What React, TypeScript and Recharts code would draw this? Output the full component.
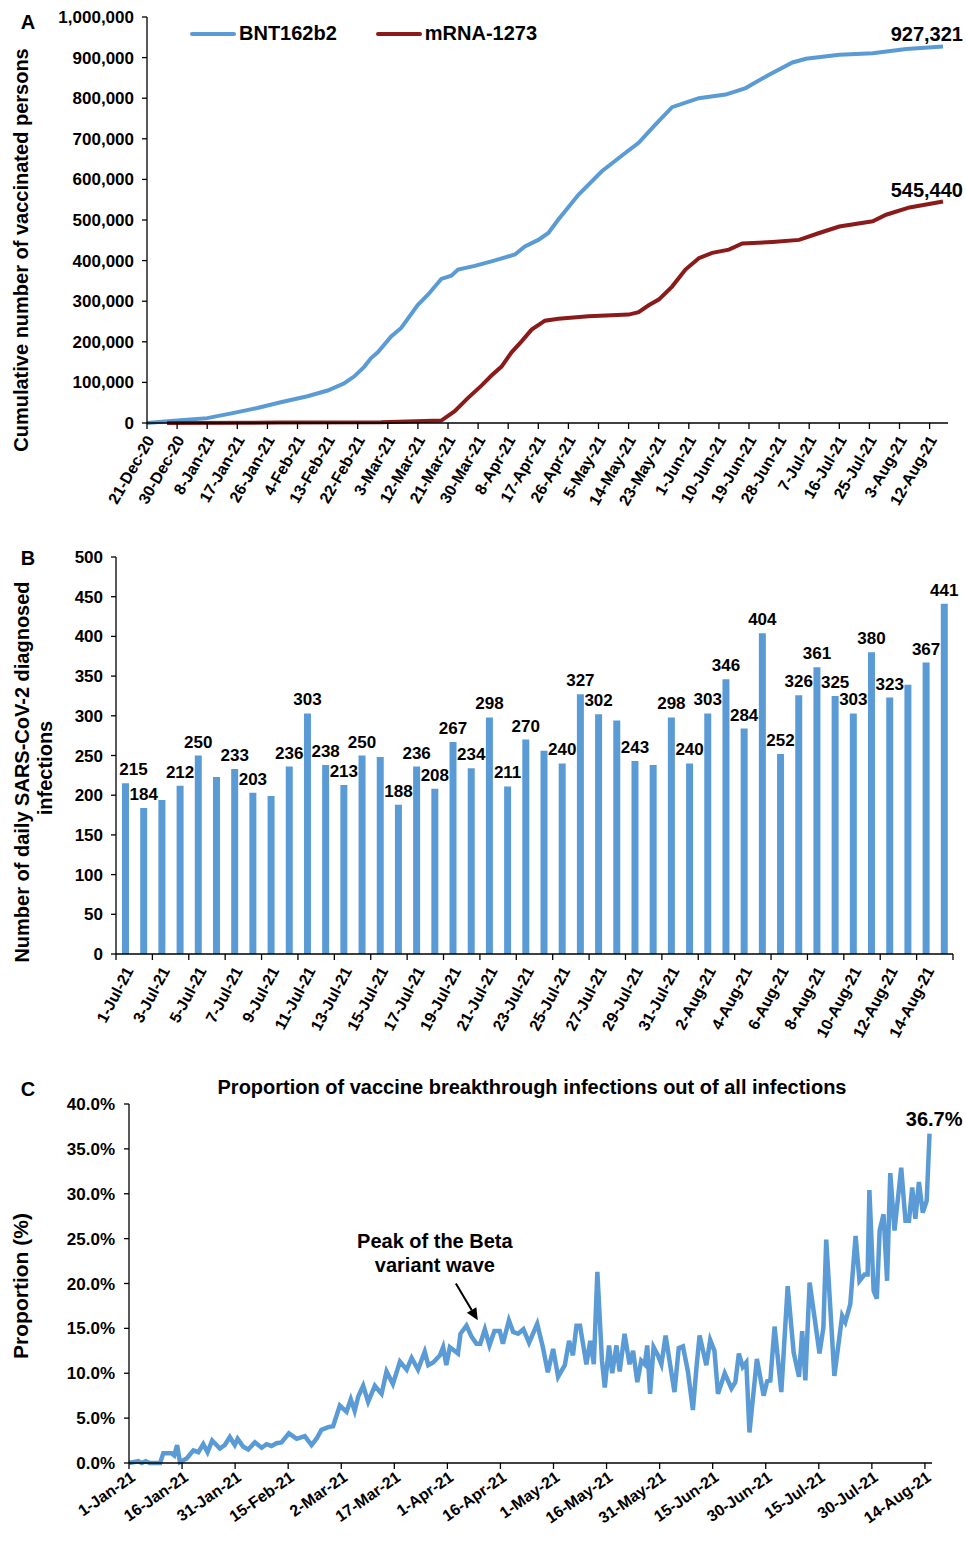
import React from 'react';
import { LineChart, Line, BarChart, Bar, XAxis, YAxis, Legend, LabelList, ReferenceLine } from 'recharts';

const FONT = '"Liberation Sans", Arial, Helvetica, sans-serif';
const BLUE = '#5B9BD5';
const RED = '#8B1A1A';
const AXIS = { stroke: '#000', strokeWidth: 1.3 };

// ---------- A: cumulative vaccinated persons (x = days since 21-Dec-20)
const vaxTickDays = [0, 9, 18, 27, 36, 45, 54, 63, 72, 81, 90, 99, 108, 117, 126, 135, 144, 153, 162, 171, 180, 189, 198, 207, 216, 225, 234];
const vaxTickLabels = ['21-Dec-20', '30-Dec-20', '8-Jan-21', '17-Jan-21', '26-Jan-21', '4-Feb-21', '13-Feb-21', '22-Feb-21', '3-Mar-21', '12-Mar-21', '21-Mar-21', '30-Mar-21', '8-Apr-21', '17-Apr-21', '26-Apr-21', '5-May-21', '14-May-21', '23-May-21', '1-Jun-21', '10-Jun-21', '19-Jun-21', '28-Jun-21', '7-Jul-21', '16-Jul-21', '25-Jul-21', '3-Aug-21', '12-Aug-21'];
const vaxYTicks = [0, 100000, 200000, 300000, 400000, 500000, 600000, 700000, 800000, 900000, 1000000];

const bntDays = [0, 9, 18, 26, 33, 40, 48, 54, 59, 62, 65, 67, 69, 73, 76, 81, 84, 88, 91, 93, 98, 103, 110, 113, 117, 120, 123, 129, 136, 143, 147, 152, 157, 165, 173, 179, 186, 193, 197, 207, 217, 227, 238];
const bntValues = [0, 6000, 12000, 25000, 37000, 51000, 66000, 80000, 98000, 115000, 139000, 160000, 174000, 213000, 234000, 291000, 316000, 355000, 363000, 378000, 387000, 398000, 415000, 435000, 451000, 468000, 501000, 562000, 620000, 665000, 690000, 735000, 778000, 800000, 809000, 825000, 858000, 888000, 897000, 907000, 911000, 921000, 927321];

const mrnaDays = [6, 40, 70, 83, 88, 92, 96, 100, 103, 106, 109, 112, 115, 119, 123, 132, 144, 147, 150, 153, 157, 161, 165, 169, 174, 178, 187, 195, 201, 207, 217, 221, 228, 238];
const mrnaValues = [0, 1000, 2000, 5000, 6000, 29000, 62000, 92000, 117000, 139000, 174000, 201000, 230000, 252000, 257000, 263000, 267000, 273000, 290000, 304000, 336000, 378000, 406000, 419000, 427000, 442000, 446000, 451000, 468000, 484000, 497000, 513000, 531000, 545440];

// ---------- B: daily diagnosed infections
const caseDates = ['1-Jul-21', '2-Jul-21', '3-Jul-21', '4-Jul-21', '5-Jul-21', '6-Jul-21', '7-Jul-21', '8-Jul-21', '9-Jul-21', '10-Jul-21', '11-Jul-21', '12-Jul-21', '13-Jul-21', '14-Jul-21', '15-Jul-21', '16-Jul-21', '17-Jul-21', '18-Jul-21', '19-Jul-21', '20-Jul-21', '21-Jul-21', '22-Jul-21', '23-Jul-21', '24-Jul-21', '25-Jul-21', '26-Jul-21', '27-Jul-21', '28-Jul-21', '29-Jul-21', '30-Jul-21', '31-Jul-21', '1-Aug-21', '2-Aug-21', '3-Aug-21', '4-Aug-21', '5-Aug-21', '6-Aug-21', '7-Aug-21', '8-Aug-21', '9-Aug-21', '10-Aug-21', '11-Aug-21', '12-Aug-21', '13-Aug-21', '14-Aug-21', '15-Aug-21'];
const caseValues = [215, 184, 194, 212, 250, 223, 233, 203, 199, 236, 303, 238, 213, 250, 248, 188, 236, 208, 267, 234, 298, 211, 270, 256, 240, 327, 302, 294, 243, 238, 298, 240, 303, 346, 284, 404, 252, 326, 361, 325, 303, 380, 323, 339, 367, 441];
const unlabeledBars = [2, 5, 8, 14, 23, 27, 29, 43];
const caseYTicks = [0, 50, 100, 150, 200, 250, 300, 350, 400, 450, 500];

// ---------- C: breakthrough proportion (x = days since 1-Jan-21)
const propTickDays = [0, 15, 30, 45, 60, 75, 90, 105, 120, 135, 150, 165, 180, 195, 210, 225];
const propTickLabels = ['1-Jan-21', '16-Jan-21', '31-Jan-21', '15-Feb-21', '2-Mar-21', '17-Mar-21', '1-Apr-21', '16-Apr-21', '1-May-21', '16-May-21', '31-May-21', '15-Jun-21', '30-Jun-21', '15-Jul-21', '30-Jul-21', '14-Aug-21'];
const propYTicks = [0, 5, 10, 15, 20, 25, 30, 35, 40];
const propDays = [0, 2.6, 3.6, 4.7, 5.9, 8.8, 9.7, 12, 12.8, 13.6, 14.4, 16.3, 18.2, 19.6, 21, 22.2, 23.5, 25.7, 27.1, 28.5, 29.9, 30.7, 32.3, 33.7, 35.6, 37.5, 38.9, 40.3, 41.7, 43.1, 45.2, 47.4, 49.7, 51.6, 53, 54.4, 56.3, 57.7, 59.6, 61.5, 62.7, 63.8, 64.8, 66.2, 67.6, 69.5, 71.4, 72.8, 74.6, 76.6, 78.5, 79.9, 81.7, 83.6, 84.6, 86, 87.9, 88.8, 89.7, 90.7, 92, 93, 93.7, 95.4, 96.8, 98.2, 99.3, 100.6, 101.9, 103.3, 104.8, 105.7, 107.4, 108.6, 110, 111.5, 113.1, 115.4, 117, 118.4, 119.9, 121.3, 123.2, 124.4, 125.5, 126.5, 127.5, 129.3, 130.4, 131.4, 132.4, 133.7, 134.5, 135.7, 136.6, 137.8, 138.7, 140.1, 141.5, 142.5, 143.7, 144.8, 145.8, 146.5, 147.3, 148.3, 149.5, 150.5, 151.7, 152.8, 154.2, 155.4, 156.6, 158, 159.4, 160.5, 161.3, 163.2, 164.3, 165.5, 166.5, 168.4, 170.3, 171.4, 172.4, 173.5, 174.5, 175.4, 177.5, 179.4, 180.4, 181.3, 182.5, 184.4, 186.2, 187.9, 189.4, 190.3, 191.2, 192.4, 193.8, 195.2, 196.3, 197.1, 199.4, 201.6, 202.5, 203.9, 205.4, 206.5, 207.9, 208.8, 209.3, 210.5, 211.4, 212.2, 213.3, 214.3, 215.2, 216.4, 218.3, 219.5, 220.5, 221.4, 222.3, 223.3, 224.4, 225.5, 226.3];
const propValues = [0, 0.2, 0, 0.2, 0, 0, 1.1, 1.1, 0.85, 2.0, 0.1, 0.5, 1.4, 1.2, 2.1, 1.2, 2.5, 1.6, 2.0, 2.9, 2.0, 2.7, 1.8, 1.5, 2.3, 1.7, 2.1, 1.9, 2.2, 2.3, 3.3, 2.7, 3.0, 2.0, 2.7, 3.7, 4.0, 4.1, 6.4, 5.7, 7.1, 5.8, 7.4, 8.6, 6.8, 8.6, 7.7, 10.2, 8.8, 11.3, 10.4, 11.7, 10.4, 12.4, 10.9, 11.2, 12.0, 12.9, 10.9, 12.9, 12.5, 12.2, 14.4, 15.3, 14.1, 13.3, 13.3, 14.9, 13.1, 14.7, 14.7, 13.3, 15.9, 14.6, 14.4, 14.9, 13.4, 15.5, 12.9, 10.1, 12.7, 9.6, 10.9, 13.6, 12.0, 15.3, 15.3, 11.0, 13.6, 11.0, 21.3, 11.4, 8.4, 13.1, 10.0, 13.1, 10.2, 14.4, 11.0, 12.5, 9.0, 11.4, 11.0, 13.1, 7.7, 12.9, 12.0, 11.0, 14.2, 11.4, 7.9, 12.8, 13.0, 10.2, 5.9, 11.0, 14.2, 10.9, 13.7, 12.5, 7.7, 10.0, 8.3, 9.0, 12.2, 10.7, 11.2, 3.4, 11.6, 7.5, 9.1, 9.2, 15.2, 7.9, 19.7, 12.3, 9.6, 14.7, 9.2, 20.1, 16.2, 12.2, 15.1, 24.9, 9.7, 16.4, 15.7, 17.7, 25.3, 20.3, 21.0, 21.0, 30.4, 19.2, 18.3, 25.9, 27.7, 20.3, 32.3, 25.9, 32.9, 27.0, 27.0, 30.7, 27.2, 31.3, 27.9, 29.2, 36.7];

// merged table so both lines share one numeric x axis
const vaxData = (() => {
  const rows = new Map<number, { day: number; bnt?: number; mrna?: number }>();
  bntDays.forEach((d, i) => {
    const r = rows.get(d) ?? { day: d };
    r.bnt = bntValues[i];
    rows.set(d, r);
  });
  mrnaDays.forEach((d, i) => {
    const r = rows.get(d) ?? { day: d };
    r.mrna = mrnaValues[i];
    rows.set(d, r);
  });
  return [...rows.values()].sort((a, b) => a.day - b.day);
})();
const caseData = caseDates.map((date, i) => ({ date, count: caseValues[i] }));
const propData = propDays.map((day, i) => ({ day, p: propValues[i] }));

const txt = { fontFamily: FONT, fontWeight: 700, fill: '#000' } as const;
const yTick = { ...txt, fontSize: 17 };

const angledTick = (angle: number, labelOf: (v: any) => string, dx: number, dy: number, extra?: (p: any) => React.ReactNode) =>
  (props: any) => {
    const { x, y, payload } = props;
    return (
      <g>
        {extra && extra(props)}
        <text transform={`translate(${x + dx},${y + dy}) rotate(${angle})`} textAnchor="end" dy="0.35em" fontSize={16} {...txt}>
          {labelOf(payload.value)}
        </text>
      </g>
    );
  };

const VaxLegend = (props: any) => (
  <div style={{ display: 'flex', alignItems: 'center', fontFamily: FONT, fontWeight: 700, fontSize: 20, color: '#000' }}>
    {(props.payload || []).map((item: any) => (
      <div key={item.value} style={{ display: 'flex', alignItems: 'center', marginRight: 39 }}>
        <span style={{ display: 'inline-block', width: 46, height: 4, borderRadius: 2, background: item.color, marginRight: 3 }} />
        <span>{item.value}</span>
      </div>
    ))}
  </div>
);

const endLabel = (lastIndex: number, fmt: (v: number) => string, dx: number, dy: number) => (p: any) =>
  p.index === lastIndex ? (
    <text x={p.x + dx} y={p.y + dy} textAnchor="end" fontSize={20} {...txt}>{fmt(Number(p.value))}</text>
  ) : null;

const PeakArrow = (props: any) => {
  const { x1, y1, x2, y2 } = props;
  const a = Math.atan2(y2 - y1, x2 - x1);
  const bx = x2 - 12 * Math.cos(a);
  const by = y2 - 12 * Math.sin(a);
  const h = 5.5;
  return (
    <g>
      <line x1={x1} y1={y1} x2={bx} y2={by} stroke="#000" strokeWidth={2} />
      <polygon points={`${x2},${y2} ${bx + h * Math.sin(a)},${by - h * Math.cos(a)} ${bx - h * Math.sin(a)},${by + h * Math.cos(a)}`} fill="#000" />
      <text x={x1 - 21} y={y1 - 36} textAnchor="middle" fontSize={20} {...txt}>Peak of the Beta</text>
      <text x={x1 - 21} y={y1 - 12} textAnchor="middle" fontSize={20} {...txt}>variant wave</text>
    </g>
  );
};

const W = 966;
const B_YW = 116;
const B_RIGHT = 13;
const bandB = (W - B_YW - B_RIGHT) / caseDates.length;

export default function App() {
  return (
    <div style={{ position: 'absolute', left: 0, top: 0, width: W, height: 1547, background: '#fff' }}>
      {/* A */}
      <div style={{ position: 'absolute', left: 0, top: 0 }}>
        <LineChart width={W} height={530} data={vaxData} margin={{ top: 17, right: 18, left: 0, bottom: 0 }}>
          <XAxis
            type="number"
            dataKey="day"
            domain={[0, 239.5]}
            ticks={vaxTickDays}
            interval={0}
            height={107}
            axisLine={AXIS}
            tickLine={AXIS}
            tickSize={6}
            tickMargin={0}
            tick={angledTick(-60, (v) => vaxTickLabels[vaxTickDays.indexOf(v)] ?? '', 3, 8)}
          />
          <YAxis
            domain={[0, 1000000]}
            ticks={vaxYTicks}
            interval={0}
            width={147}
            axisLine={AXIS}
            tickLine={AXIS}
            tickSize={5}
            tickMargin={8}
            tick={yTick}
            tickFormatter={(v: number) => v.toLocaleString('en-US')}
          />
          <Legend
            layout="horizontal"
            verticalAlign="middle"
            align="center"
            width={480}
            height={26}
            wrapperStyle={{ left: 190, top: 22 }}
            content={VaxLegend}
          />
          <Line name="BNT162b2" dataKey="bnt" stroke={BLUE} strokeWidth={4} dot={false} activeDot={false} connectNulls isAnimationActive={false}>
            <LabelList dataKey="bnt" content={endLabel(vaxData.length - 1, (v) => v.toLocaleString('en-US'), 20, -6)} />
          </Line>
          <Line name="mRNA-1273" dataKey="mrna" stroke={RED} strokeWidth={4} dot={false} activeDot={false} connectNulls isAnimationActive={false}>
            <LabelList dataKey="mrna" content={endLabel(vaxData.length - 1, (v) => v.toLocaleString('en-US'), 20, -5)} />
          </Line>
        </LineChart>
      </div>

      {/* B */}
      <div style={{ position: 'absolute', left: 0, top: 530 }}>
        <BarChart width={W} height={530} data={caseData} margin={{ top: 27, right: B_RIGHT, left: 0, bottom: 0 }}>
          <XAxis
            dataKey="date"
            interval={1}
            height={106}
            axisLine={AXIS}
            tickLine={false}
            tickSize={6}
            tickMargin={0}
            tick={angledTick(-62, (v) => String(v), 4, 8, ({ x, y, payload }) => (
              <>
                <line x1={x - bandB / 2} x2={x - bandB / 2} y1={y - 6} y2={y} stroke="#000" strokeWidth={1.3} />
                {payload.value === caseDates[caseDates.length - 2] && (
                  <line x1={x + bandB * 1.5} x2={x + bandB * 1.5} y1={y - 6} y2={y} stroke="#000" strokeWidth={1.3} />
                )}
              </>
            ))}
          />
          <YAxis
            domain={[0, 500]}
            ticks={caseYTicks}
            interval={0}
            width={B_YW}
            axisLine={AXIS}
            tickLine={AXIS}
            tickSize={5}
            tickMargin={8}
            tick={yTick}
          />
          <Bar dataKey="count" fill={BLUE} barSize={7} isAnimationActive={false}>
            <LabelList
              dataKey="count"
              content={(p: any) =>
                unlabeledBars.includes(p.index) ? null : (
                  <text x={p.x + p.width / 2 + (p.index === 0 ? 8 : 0)} y={p.y - 8} textAnchor="middle" fontSize={17} {...txt}>{p.value}</text>
                )
              }
            />
          </Bar>
        </BarChart>
      </div>

      {/* C */}
      <div style={{ position: 'absolute', left: 0, top: 1070 }}>
        <LineChart width={W} height={477} data={propData} margin={{ top: 34, right: 34, left: 0, bottom: 0 }}>
          <XAxis
            type="number"
            dataKey="day"
            domain={[0, 227]}
            ticks={propTickDays}
            interval={0}
            height={84}
            axisLine={AXIS}
            tickLine={AXIS}
            tickSize={6}
            tickMargin={0}
            tick={angledTick(-35, (v) => propTickLabels[propTickDays.indexOf(v)] ?? '', 4, 6)}
          />
          <YAxis
            domain={[0, 40]}
            ticks={propYTicks}
            interval={0}
            width={129}
            axisLine={AXIS}
            tickLine={AXIS}
            tickSize={5}
            tickMargin={9}
            tick={yTick}
            tickFormatter={(v: number) => `${v.toFixed(1)}%`}
          />
          <ReferenceLine segment={[{ x: 92.4, y: 20 }, { x: 98.6, y: 15.9 }]} shape={PeakArrow} />
          <Line dataKey="p" stroke={BLUE} strokeWidth={4.5} dot={false} activeDot={false} isAnimationActive={false}>
            <LabelList dataKey="p" content={endLabel(propData.length - 1, (v) => `${v.toFixed(1)}%`, 33, -8)} />
          </Line>
        </LineChart>
      </div>

      {/* panel letters and titles */}
      <svg width={W} height={1547} style={{ position: 'absolute', left: 0, top: 0, pointerEvents: 'none' }}>
        <text x={28} y={29} textAnchor="middle" fontSize={20} {...txt}>A</text>
        <text x={28} y={565} textAnchor="middle" fontSize={20} {...txt}>B</text>
        <text x={28} y={1096} textAnchor="middle" fontSize={20} {...txt}>C</text>
        <text transform="translate(21,250) rotate(-90)" textAnchor="middle" dy="0.35em" fontSize={20} {...txt}>
          Cumulative number of vaccinated persons
        </text>
        <text transform="translate(22,772) rotate(-90)" textAnchor="middle" dy="0.35em" fontSize={20} {...txt}>
          Number of daily SARS-CoV-2 diagnosed
        </text>
        <text transform="translate(45,768) rotate(-90)" textAnchor="middle" dy="0.35em" fontSize={20} {...txt}>
          infections
        </text>
        <text transform="translate(21,1286) rotate(-90)" textAnchor="middle" dy="0.35em" fontSize={21} {...txt}>
          Proportion (%)
        </text>
        <text x={532} y={1094} textAnchor="middle" fontSize={20} {...txt}>
          Proportion of vaccine breakthrough infections out of all infections
        </text>
      </svg>
    </div>
  );
}
